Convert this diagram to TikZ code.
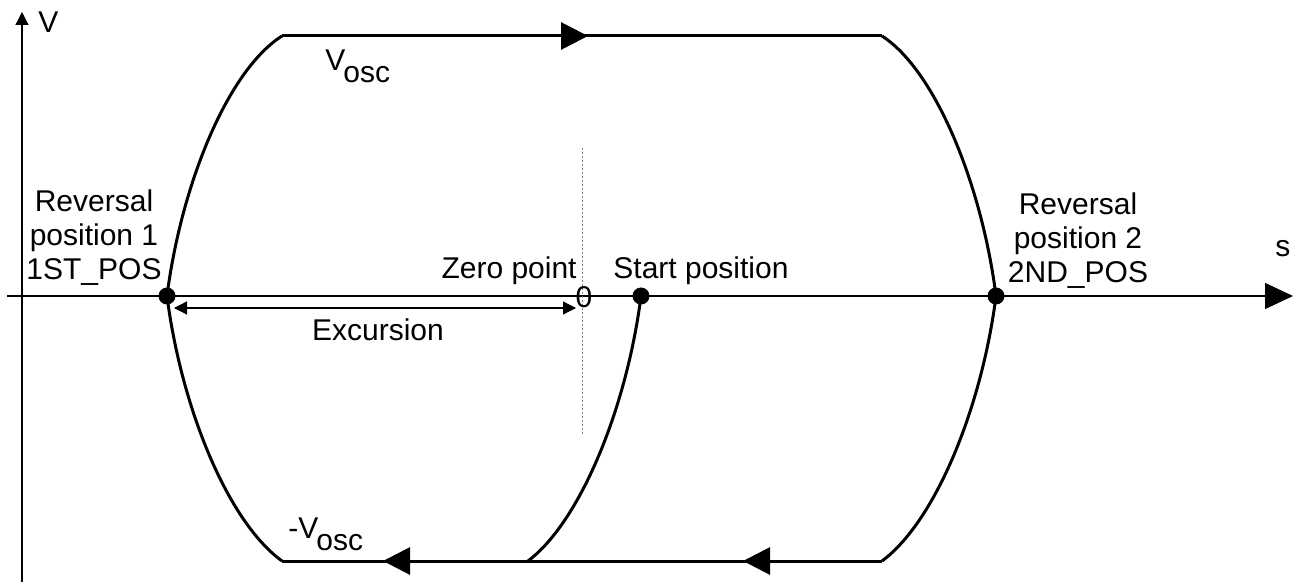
\documentclass[tikz,border=0pt]{standalone}
\usepackage{fontspec}
\setmainfont{Liberation Sans}
\usetikzlibrary{arrows.meta}
\begin{document}
\begin{tikzpicture}[x=0.5pt,y=-0.5pt,
  lbl/.style={inner sep=0pt, font=\fontsize{15}{17}\selectfont},
  curve/.style={line width=1.5pt},
  thinl/.style={line width=0.6pt},
  dot/.style={circle, fill=black, inner sep=0pt, minimum size=8.5pt},
  bigtip/.style={-{Triangle[length=13.5pt,width=13.5pt]}},
  smalltip/.style={-{Triangle[length=6.5pt,width=6.5pt]}},
  bothsmall/.style={{Triangle[length=6.5pt,width=6.5pt]}-{Triangle[length=6.5pt,width=6.5pt]}},
]
\useasboundingbox (0,0) rectangle (1295,582);
% axes
\coordinate (vbot) at (22,582);
\coordinate (vtop) at (22,12);
\coordinate (sleft) at (7,296);
\coordinate (sright) at (1293,296);
\draw[thinl, smalltip] (vbot) -- (vtop);
\draw[thinl, -{Triangle[length=14pt,width=13pt]}] (sleft) -- (sright);
% dotted zero line
\coordinate (z1) at (582,148);
\coordinate (z2) at (582,435);
\draw[gray, line width=0.5pt, dash pattern=on 1pt off 1pt] (z1) -- (z2);
% key coordinates
\coordinate (TL) at (282,36);
\coordinate (TR) at (882,36);
\coordinate (BL) at (282,561);
\coordinate (BR) at (882,561);
\coordinate (SB) at (528,561);
\coordinate (ta) at (588,36);
\coordinate (ba1) at (383,561);
\coordinate (ba2) at (743,561);
% dots
\node[dot] (L) at (167,296) {};
\node[dot] (R) at (996,296) {};
\node[dot] (S) at (641,296) {};
% curves
\draw[curve] (L.center) .. controls (181,186) and (227,71) .. (TL);
\draw[curve] (L.center) .. controls (181,406) and (227,521) .. (BL);
\draw[curve] (R.center) .. controls (982,186) and (936,71) .. (TR);
\draw[curve] (R.center) .. controls (982,406) and (936,521) .. (BR);
\draw[curve] (S.center) .. controls (627,406) and (581,521) .. (SB);
% horizontal runs
\draw[curve] (TL) -- (TR);
\draw[curve, bigtip] (TL) -- (ta);
\draw[curve] (BR) -- (BL);
\draw[curve, bigtip] (SB) -- (ba1);
\draw[curve, bigtip] (BR) -- (ba2);
% excursion
\coordinate (e1) at (174,308);
\coordinate (e2) at (576,308);
\draw[thinl, bothsmall] (e1) -- (e2);
% labels
\node[lbl, anchor=base west] (vlab) at (38,33) {V};
\node[lbl, anchor=base west] (slab) at (1275,257) {s};
\node[lbl, anchor=base west] (vosc) at (325,71) {V\kern-1pt\raisebox{-6pt}{osc}};
\node[lbl, anchor=base west] (mvosc) at (288,538) {-V\kern-1pt\raisebox{-6pt}{osc}};
\node[lbl, align=center] (rev1) at (94,238) {Reversal\\position 1\\1ST\_POS};
\node[lbl, align=center] (rev2) at (1078,241) {Reversal\\position 2\\2ND\_POS};
\node[lbl, anchor=base east] (zp) at (577,279) {Zero point};
\node[lbl, anchor=base west] (sp) at (613,279) {Start position};
\node[lbl] (zero) at (584,297) {0};
\node[lbl, anchor=base] (exc) at (378,341) {Excursion};
\end{tikzpicture}
\end{document}
